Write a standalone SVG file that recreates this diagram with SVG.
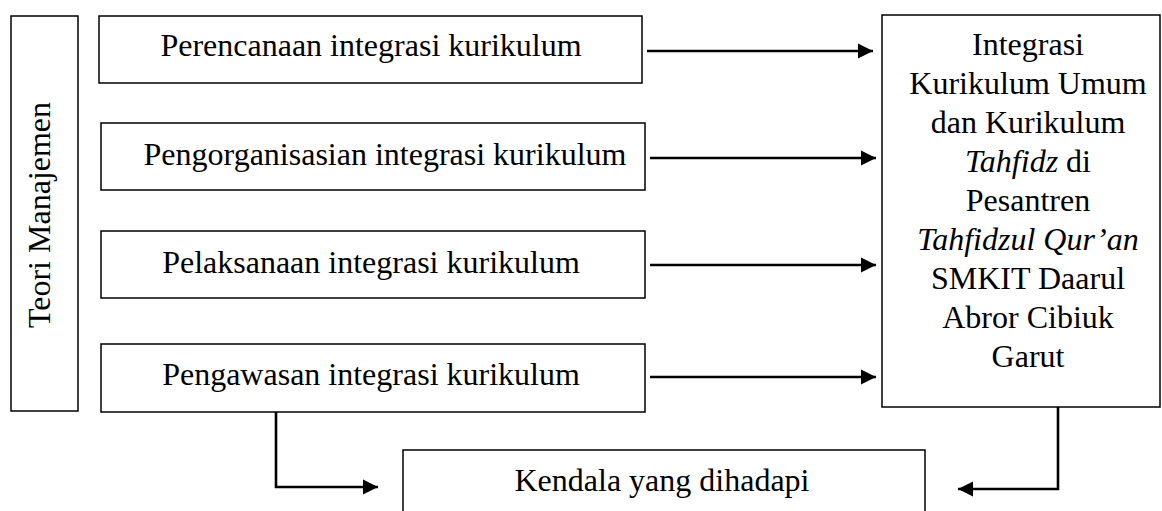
<svg xmlns="http://www.w3.org/2000/svg" width="1162" height="511" viewBox="0 0 1162 511">
<style>
.box{fill:#fff;stroke:#000;stroke-width:1.5}
.t{font-family:"Liberation Serif","Times New Roman",serif;font-size:32px;fill:#000;text-anchor:middle}
.i{font-style:italic}
.c{fill:none;stroke:#000;stroke-width:2.6}
</style>
<defs>
<marker id="ah" markerUnits="userSpaceOnUse" markerWidth="16" markerHeight="16" viewBox="0 0 16 16" refX="15" refY="8" orient="auto">
<path d="M0,0.5 L15,8 L0,15.5 Z" fill="#000"/>
</marker>
</defs>
<rect width="1162" height="511" fill="#fff"/>
<g id="teori">
<rect class="box" x="11" y="16" width="67" height="395"/>
<text class="t" transform="translate(50,215) rotate(-90)">Teori Manajemen</text>
</g>
<g id="perencanaan">
<rect class="box" x="99" y="16" width="543" height="67"/>
<text class="t" x="371" y="56">Perencanaan integrasi kurikulum</text>
</g>
<g id="pengorganisasian">
<rect class="box" x="101" y="123" width="544" height="67"/>
<text class="t" x="385" y="165">Pengorganisasian integrasi kurikulum</text>
</g>
<g id="pelaksanaan">
<rect class="box" x="101" y="231" width="544" height="67"/>
<text class="t" x="371" y="273">Pelaksanaan integrasi kurikulum</text>
</g>
<g id="pengawasan">
<rect class="box" x="101" y="344" width="544" height="68"/>
<text class="t" x="371" y="385">Pengawasan integrasi kurikulum</text>
</g>
<g id="integrasi">
<rect class="box" x="882" y="15" width="278" height="392"/>
<text class="t" x="1028" y="55">Integrasi</text>
<text class="t" x="1028" y="94">Kurikulum Umum</text>
<text class="t" x="1028" y="133">dan Kurikulum</text>
<text class="t" x="1028" y="172"><tspan class="i">Tahfidz</tspan> di</text>
<text class="t" x="1028" y="211">Pesantren</text>
<text class="t i" x="1028" y="250">Tahfidzul Qur’an</text>
<text class="t" x="1028" y="289">SMKIT Daarul</text>
<text class="t" x="1028" y="328">Abror Cibiuk</text>
<text class="t" x="1028" y="367">Garut</text>
</g>
<g id="kendala">
<rect class="box" x="403" y="450" width="522" height="70"/>
<text class="t" x="662" y="491">Kendala yang dihadapi</text>
</g>
<g id="connectors">
<path class="c" d="M647 51 H873" marker-end="url(#ah)"/>
<path class="c" d="M650 158 H876" marker-end="url(#ah)"/>
<path class="c" d="M650 265 H876" marker-end="url(#ah)"/>
<path class="c" d="M650 377 H876" marker-end="url(#ah)"/>
<path class="c" d="M276 412 V487 H378" marker-end="url(#ah)"/>
<path class="c" d="M1058 407 V489 H958" marker-end="url(#ah)"/>
</g>
</svg>
